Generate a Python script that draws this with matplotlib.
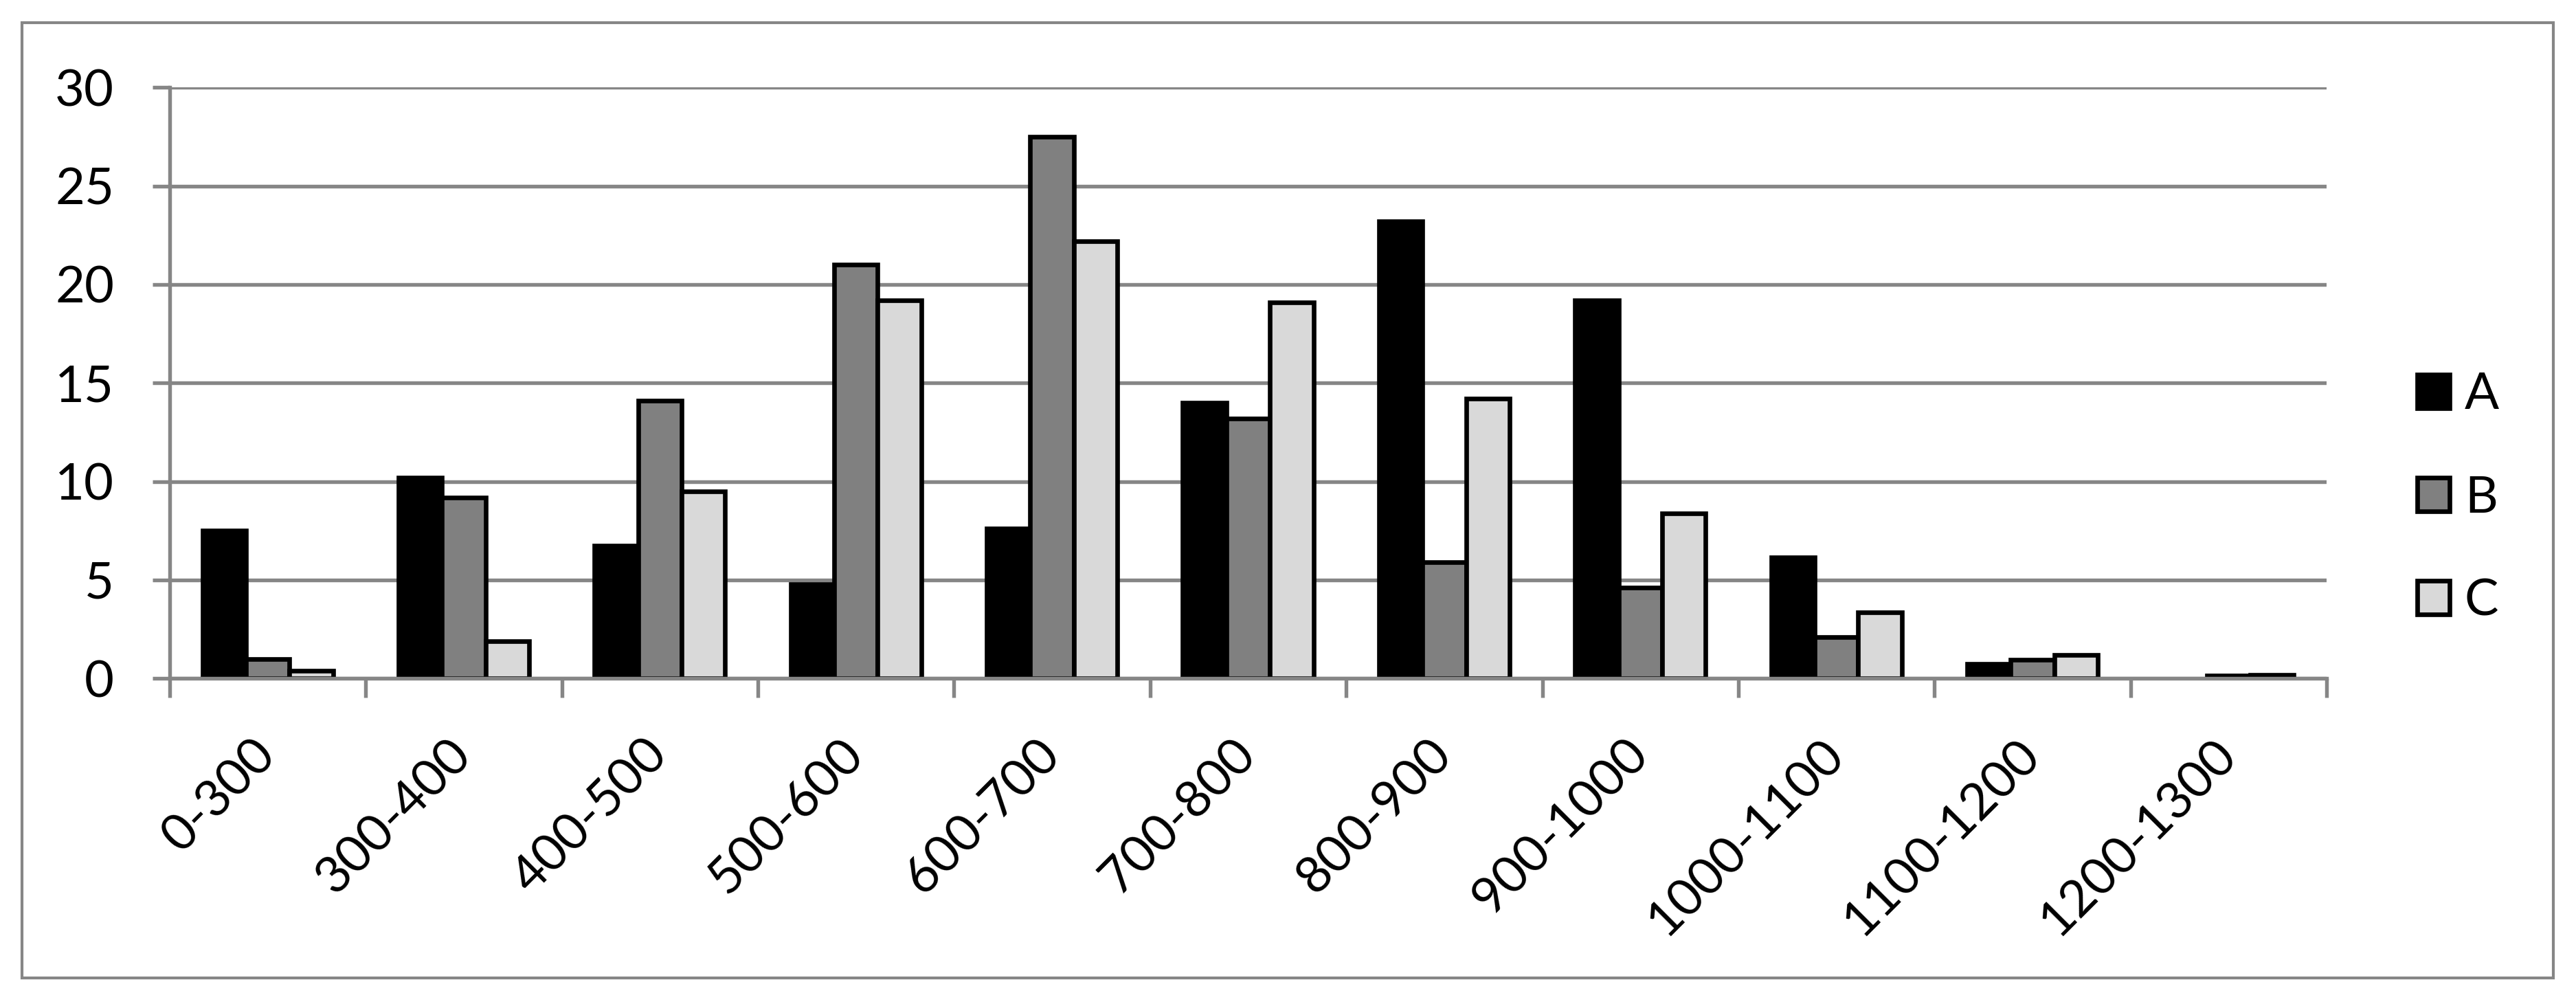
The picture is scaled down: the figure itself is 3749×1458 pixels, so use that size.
import matplotlib
matplotlib.use("Agg")
import matplotlib.pyplot as plt
import numpy as np
from matplotlib.patches import Rectangle

# values
categories = ["0-300", "300-400", "400-500", "500-600", "600-700", "700-800",
              "800-900", "900-1000", "1000-1100", "1100-1200", "1200-1300"]
series_names = ["A", "B", "C"]
a_vals = [7.5, 10.2, 6.75, 4.8, 7.6, 14.0, 23.2, 19.2, 6.15, 0.75, 0.0]
b_vals = [1.0, 9.2, 14.1, 21.0, 27.5, 13.2, 5.9, 4.6, 2.1, 0.95, 0.15]
c_vals = [0.38, 1.9, 9.5, 19.2, 22.2, 19.1, 14.2, 8.4, 3.35, 1.2, 0.2]
colors = ["#000000", "#808080", "#d9d9d9"]
y_ticks = [0, 5, 10, 15, 20, 25, 30]

GRID = "#868686"
FS = 17.8

plt.rcParams["font.family"] = ["Lato", "DejaVu Sans"]

W, H, DPI = 3749, 1458, 300
fig = plt.figure(figsize=(W / DPI, H / DPI), dpi=DPI)

left, right = 247 / W, 3386 / W
bottom, top = (H - 987.3) / H, (H - 127.3) / H
ax = fig.add_axes([left, bottom, right - left, top - bottom])

x = np.arange(len(categories))
w = 0.222
for i, (vals, name) in enumerate(zip([a_vals, b_vals, c_vals], series_names)):
    bars = ax.bar(x + (i - 1) * w, vals, width=w, color=colors[i],
                  edgecolor="black", linewidth=1.6, label=name, zorder=2)
    for bar, v in zip(bars, vals):
        if v == 0:
            bar.set_visible(False)

ax.set_xlim(-0.5, len(categories) - 0.5)
ax.set_ylim(0, 30)
ax.set_axisbelow(True)
ax.yaxis.grid(True, color=GRID, linewidth=1.3)
ax.set_yticks(y_ticks)
ax.tick_params(axis="y", length=6, width=1.3, color=GRID, pad=13.4,
               labelsize=FS, labelcolor="black")

ax.set_xticks(x)
ax.set_xticklabels(categories, rotation=45, ha="right", va="center",
                   rotation_mode="anchor", fontsize=FS)
ax.tick_params(axis="x", which="major", length=0, pad=24)
ax.set_xticks(np.arange(len(categories) + 1) - 0.5, minor=True)
ax.tick_params(axis="x", which="minor", length=6.7, width=1.3, color=GRID)

for s in ["top", "right"]:
    ax.spines[s].set_visible(False)
for s in ["left", "bottom"]:
    ax.spines[s].set_color(GRID)
    ax.spines[s].set_linewidth(1.3)
ax.spines["bottom"].set_zorder(3)

ax.legend(loc="center left", bbox_to_anchor=(3518 / W, (H - 725) / H),
          bbox_transform=fig.transFigure, frameon=False, fontsize=FS,
          handlelength=0.63, handleheight=0.63, handletextpad=0.3,
          labelspacing=1.12, borderpad=0, borderaxespad=0)

# outer chart border
fig.patches.append(Rectangle((31.5 / W, (H - 1422.6) / H),
                             (3716 - 31.5) / W, (1422.6 - 32.5) / H,
                             transform=fig.transFigure, fill=False,
                             edgecolor=GRID, linewidth=1.0))

fig.savefig("out.png", dpi=DPI)
